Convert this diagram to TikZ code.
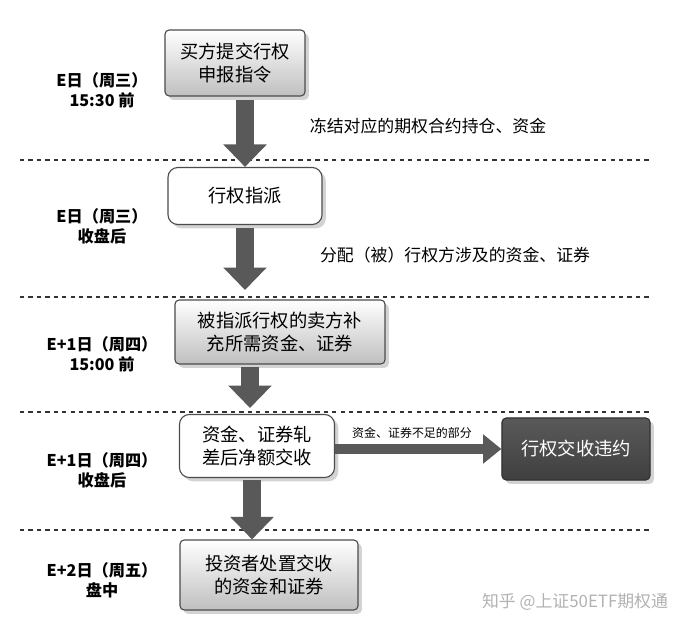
\documentclass[tikz,border=0pt]{standalone}
\usepackage{fontspec}
\setmainfont{Noto Sans CJK SC}
\usetikzlibrary{arrows.meta,shadows}

\begin{document}
\begin{tikzpicture}[x=0.025cm,y=-0.025cm]

\tikzstyle{gbox}=[draw=black!70,thick,rounded corners=3pt,top color=white,bottom color=black!25,
  drop shadow={opacity=.35},align=center,font=\fontsize{13}{16}\selectfont,inner sep=0pt]
\tikzstyle{wbox}=[gbox,top color=white,bottom color=white,rounded corners=7pt]
\tikzstyle{dbox}=[gbox,fill=black!70,top color=black!65,bottom color=black!75,text=white,draw=black!80]
\tikzstyle{day}=[align=center,font=\bfseries\fontsize{11.5}{14}\selectfont]
\tikzstyle{big}=[draw=black!65,line width=13pt,-{Triangle[length=16pt,width=30pt]}]
\tikzstyle{sep}=[dashed,thick,black!80]
\tikzstyle{note}=[font=\fontsize{12}{14}\selectfont]

\useasboundingbox (0,0) rectangle (676,629);

\draw[sep] (20,160)--(650,160);
\draw[sep] (20,297)--(650,297);
\draw[sep] (20,412)--(650,412);
\draw[sep] (20,530)--(650,530);

\node[gbox,minimum width=3.5cm,minimum height=1.65cm] (buy) at (235,63) {买方提交行权\\申报指令};
\node[wbox,minimum width=3.85cm,minimum height=1.425cm] (asg) at (245,196) {行权指派};
\node[gbox,minimum width=5.25cm,minimum height=1.6cm] (sell) at (280,332) {被指派行权的卖方补\\充所需资金、证券};
\node[wbox,minimum width=3.875cm,minimum height=1.575cm] (net) at (257,446) {资金、证券轧\\差后净额交收};
\node[dbox,minimum width=3.7cm,minimum height=1.55cm] (dft) at (576,449) {行权交收违约};
\node[gbox,minimum width=4.45cm,minimum height=1.75cm] (inv) at (269,575) {投资者处置交收\\的资金和证券};

\node[day] (d1) at (102,90) {E日（周三）\\15:30 前};
\node[day] (d2) at (102,226) {E日（周三）\\收盘后};
\node[day] (d3) at (102,354) {E+1日（周四）\\15:00 前};
\node[day] (d4) at (102,470) {E+1日（周四）\\收盘后};
\node[day] (d5) at (102,580) {E+2日（周五）\\盘中};

\coordinate (a1) at (245,100);
\coordinate (a2) at (245,228);
\coordinate (a3) at (250,367);
\coordinate (a4) at (252,480);
\draw[big] (a1)--(asg.north-|a1);
\draw[big] (a2)--(245,290);
\draw[big] (a3)--(250,408);
\draw[big] (a4)--(inv.north-|a4);
\draw[draw=black!65,line width=7pt,-{Triangle[length=13pt,width=20pt]}] (net.east|-dft)--(dft.west);

\node[note] (n1) at (428,126) {冻结对应的期权合约持仓、资金};
\node[note] (n2) at (455,255) {分配（被）行权方涉及的资金、证券};
\node[font=\fontsize{8.5}{10}\selectfont] (n3) at (412,433) {资金、证券不足的部分};

\node[black!30,font=\fontsize{12}{14}\selectfont] (wm) at (575,602) {知乎 @上证50ETF期权通};

\end{tikzpicture}
\end{document}
